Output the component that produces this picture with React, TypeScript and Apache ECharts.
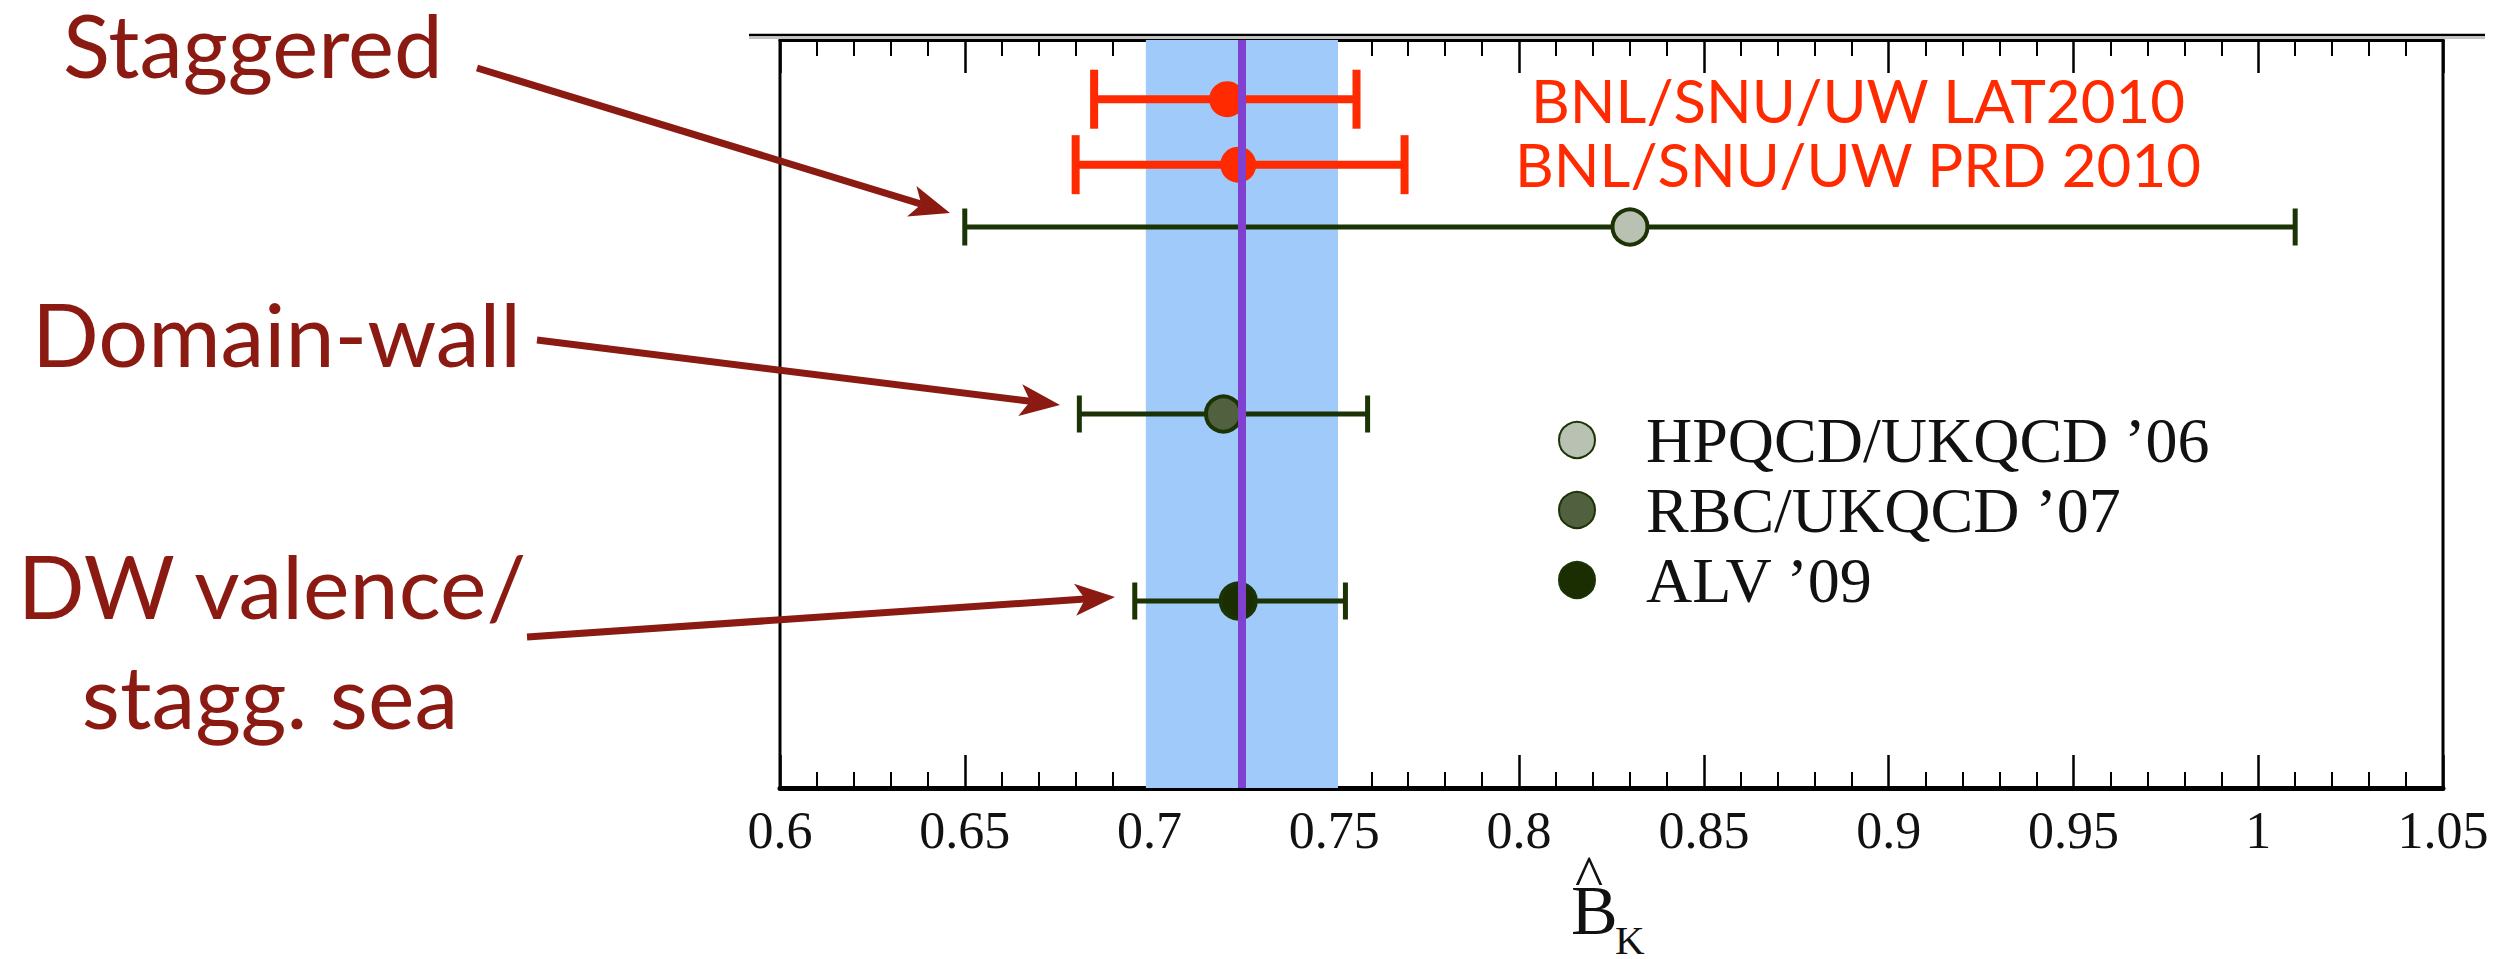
import React, { useEffect, useRef } from 'react';
import * as echarts from 'echarts';

// ---------------- data ----------------
const xMin = 0.6;
const xMax = 1.05;
const xStep = 0.05;
const yMin = 0;
const yMax = 12;

const bnlNames = ['BNL/SNU/UW LAT2010', 'BNL/SNU/UW PRD 2010'];
const bnlCentral = [0.721, 0.724];
const bnlLow = [0.685, 0.68];
const bnlHigh = [0.756, 0.769];
const bnlRow = [11.05, 10];

const otherNames = ['HPQCD/UKQCD \u201906', 'RBC/UKQCD \u201907', 'ALV \u201909'];
const otherCentral = [0.83, 0.72, 0.724];
const otherLow = [0.65, 0.681, 0.696];
const otherHigh = [1.01, 0.759, 0.753];
const otherRow = [9, 6, 3];

const avgCentral = 0.725;
const avgLow = 0.699;
const avgHigh = 0.751;

const annotationTexts = ['Staggered', 'Domain-wall', 'DW valence/', 'stagg. sea'];

// ---------------- styles ----------------
const RED = '#FF2A00';
const GREEN = '#1B3305';
const DARKRED = '#8B1A12';
const SERIF = '"Liberation Serif", "Times New Roman", serif';
const SANS = 'Lato, "Open Sans", sans-serif';
const pointFills = ['#b9c1b2', '#51613f', '#1A2E02'];

function arrow(x1: number, y1: number, x2: number, y2: number) {
  const dx = x2 - x1;
  const dy = y2 - y1;
  const L = Math.hypot(dx, dy);
  const ux = dx / L;
  const uy = dy / L;
  const hl = 40;
  const hw = 16;
  const bx = x2 - ux * hl;
  const by = y2 - uy * hl;
  return [
    {
      type: 'line',
      z: 100,
      shape: { x1, y1, x2: bx + ux * 10, y2: by + uy * 10 },
      style: { stroke: DARKRED, lineWidth: 7 },
    },
    {
      type: 'polygon',
      z: 100,
      shape: {
        points: [
          [x2, y2],
          [bx - uy * hw, by + ux * hw],
          [bx + ux * 10, by + uy * 10],
          [bx + uy * hw, by - ux * hw],
        ],
      },
      style: { fill: DARKRED },
    },
  ];
}

function errorBarSeries(name: string, lows: number[], highs: number[], rows: number[], color: string, width: number, cap: number) {
  return {
    name,
    type: 'custom',
    z: 3,
    silent: true,
    data: lows.map((l, i) => [l, highs[i], rows[i]]),
    encode: { x: [0, 1], y: 2 },
    renderItem: (params: any, api: any) => {
      const lo = api.coord([api.value(0), api.value(2)]);
      const hi = api.coord([api.value(1), api.value(2)]);
      const h = cap / 2;
      const style = { stroke: color, lineWidth: width };
      return {
        type: 'group',
        children: [
          { type: 'line', shape: { x1: lo[0], y1: lo[1], x2: hi[0], y2: hi[1] }, style },
          { type: 'line', shape: { x1: lo[0], y1: lo[1] - h, x2: lo[0], y2: lo[1] + h }, style },
          { type: 'line', shape: { x1: hi[0], y1: hi[1] - h, x2: hi[0], y2: hi[1] + h }, style },
        ],
      };
    },
  };
}

const xAxisBase = {
  type: 'value',
  min: xMin,
  max: xMax,
  interval: xStep,
  splitLine: { show: false },
  axisTick: { show: true, inside: true, length: 33, lineStyle: { color: '#000', width: 2.5 } },
  minorTick: { show: true, splitNumber: 5, length: 16, lineStyle: { color: '#000', width: 2 } },
  minorSplitLine: { show: false },
};

const option: any = {
  animation: false,
  backgroundColor: '#ffffff',
  grid: {
    left: 780,
    right: 72,
    top: 40,
    bottom: 171,
    show: true,
    borderColor: '#000',
    borderWidth: 3,
    backgroundColor: 'transparent',
  },
  xAxis: [
    {
      ...xAxisBase,
      position: 'bottom',
      axisLine: { show: true, lineStyle: { color: '#000', width: 5 } },
      axisLabel: {
        show: true,
        margin: 16,
        fontSize: 52,
        fontFamily: SERIF,
        color: '#111',
        lineHeight: 52,
      },
    },
    {
      ...xAxisBase,
      position: 'top',
      axisLine: { show: true, lineStyle: { color: '#000', width: 3 } },
      axisLabel: { show: false },
    },
  ],
  yAxis: { type: 'value', min: yMin, max: yMax, show: false },
  legend: {
    orient: 'vertical',
    left: 1558,
    top: 407,
    padding: 0,
    itemWidth: 36,
    itemHeight: 36,
    itemGap: 4,
    icon: 'circle',
    data: otherNames,
    textStyle: {
      fontSize: 64,
      fontFamily: SERIF,
      color: '#111',
      lineHeight: 66,
      padding: [0, 0, 0, 46],
    },
  },
  series: [
    {
      name: 'average',
      type: 'scatter',
      data: [],
      z: 1,
      silent: true,
      markArea: {
        silent: true,
        precision: 4,
        itemStyle: { color: '#A0CAFA' },
        data: [[{ xAxis: avgLow }, { xAxis: avgHigh }]],
      },
      markLine: {
        silent: true,
        precision: 4,
        symbol: 'none',
        label: { show: false },
        lineStyle: { color: '#8040D0', width: 8, type: 'solid' },
        data: [{ xAxis: avgCentral }],
      },
    },
    errorBarSeries('bnl-err', bnlLow, bnlHigh, bnlRow, RED, 8, 59),
    errorBarSeries('other-err', otherLow, otherHigh, otherRow, GREEN, 5, 37),
    {
      name: 'BNL',
      type: 'scatter',
      z: 4,
      symbol: 'circle',
      symbolSize: 36,
      itemStyle: { color: RED, opacity: 1 },
      data: bnlCentral.map((c, i) => [c, bnlRow[i]]),
    },
    ...otherNames.map((n, i) => ({
      name: n,
      type: 'scatter',
      z: 4,
      symbol: 'circle',
      symbolSize: 35,
      itemStyle: {
        color: pointFills[i],
        opacity: 1,
        borderColor: GREEN,
        borderWidth: 4,
      },
      data: [[otherCentral[i], otherRow[i]]],
    })),
  ],
  graphic: {
    elements: [
      { type: 'line', z: 50, shape: { x1: 749, y1: 35, x2: 2485, y2: 35 }, style: { stroke: '#000', lineWidth: 2.5 } },
      { type: 'line', z: 50, shape: { x1: 749, y1: 38, x2: 2485, y2: 38 }, style: { stroke: '#c4c4c4', lineWidth: 2 } },
      {
        type: 'text', z: 100, x: 1858, y: 100,
        style: { text: bnlNames[0], font: `60px ${SANS}`, lineHeight: 56, fill: RED, align: 'center', verticalAlign: 'middle' },
      },
      {
        type: 'text', z: 100, x: 1858, y: 164,
        style: { text: bnlNames[1], font: `60px ${SANS}`, lineHeight: 56, fill: RED, align: 'center', verticalAlign: 'middle' },
      },
      {
        type: 'text', z: 100, x: 63, y: 44,
        style: { text: annotationTexts[0], font: `87px ${SANS}`, lineHeight: 76, fill: DARKRED, align: 'left', verticalAlign: 'middle' },
      },
      {
        type: 'text', z: 100, x: 32, y: 333,
        style: { text: annotationTexts[1], font: `88px ${SANS}`, lineHeight: 80, fill: DARKRED, align: 'left', verticalAlign: 'middle' },
      },
      {
        type: 'text', z: 100, x: 272, y: 585,
        style: { text: annotationTexts[2], font: `88px ${SANS}`, lineHeight: 80, fill: DARKRED, align: 'center', verticalAlign: 'middle' },
      },
      {
        type: 'text', z: 100, x: 270, y: 695,
        style: { text: annotationTexts[3], font: `88px ${SANS}`, lineHeight: 80, fill: DARKRED, align: 'center', verticalAlign: 'middle' },
      },
      ...arrow(477, 68, 950, 213),
      ...arrow(537, 340, 1060, 405),
      ...arrow(527, 637, 1115, 597),
      {
        type: 'text', z: 100, x: 1589, y: 876,
        style: { text: '^', font: `60px ${SERIF}`, lineHeight: 40, fill: '#111', align: 'center', verticalAlign: 'middle' },
      },
      {
        type: 'text', z: 100, x: 1571, y: 910,
        style: { text: 'B', font: `70px ${SERIF}`, lineHeight: 56, fill: '#111', align: 'left', verticalAlign: 'middle' },
      },
      {
        type: 'text', z: 100, x: 1615, y: 940,
        style: { text: 'K', font: `41px ${SERIF}`, lineHeight: 30, fill: '#111', align: 'left', verticalAlign: 'middle' },
      },
    ],
  },
};

export default function App() {
  const ref = useRef<HTMLDivElement>(null);
  useEffect(() => {
    document.body.style.margin = '0';
    const chart = echarts.init(ref.current as HTMLDivElement, null, { renderer: 'svg' });
    chart.setOption(option);
    return () => chart.dispose();
  }, []);
  return <div ref={ref} style={{ width: 2515, height: 959 }} />;
}
